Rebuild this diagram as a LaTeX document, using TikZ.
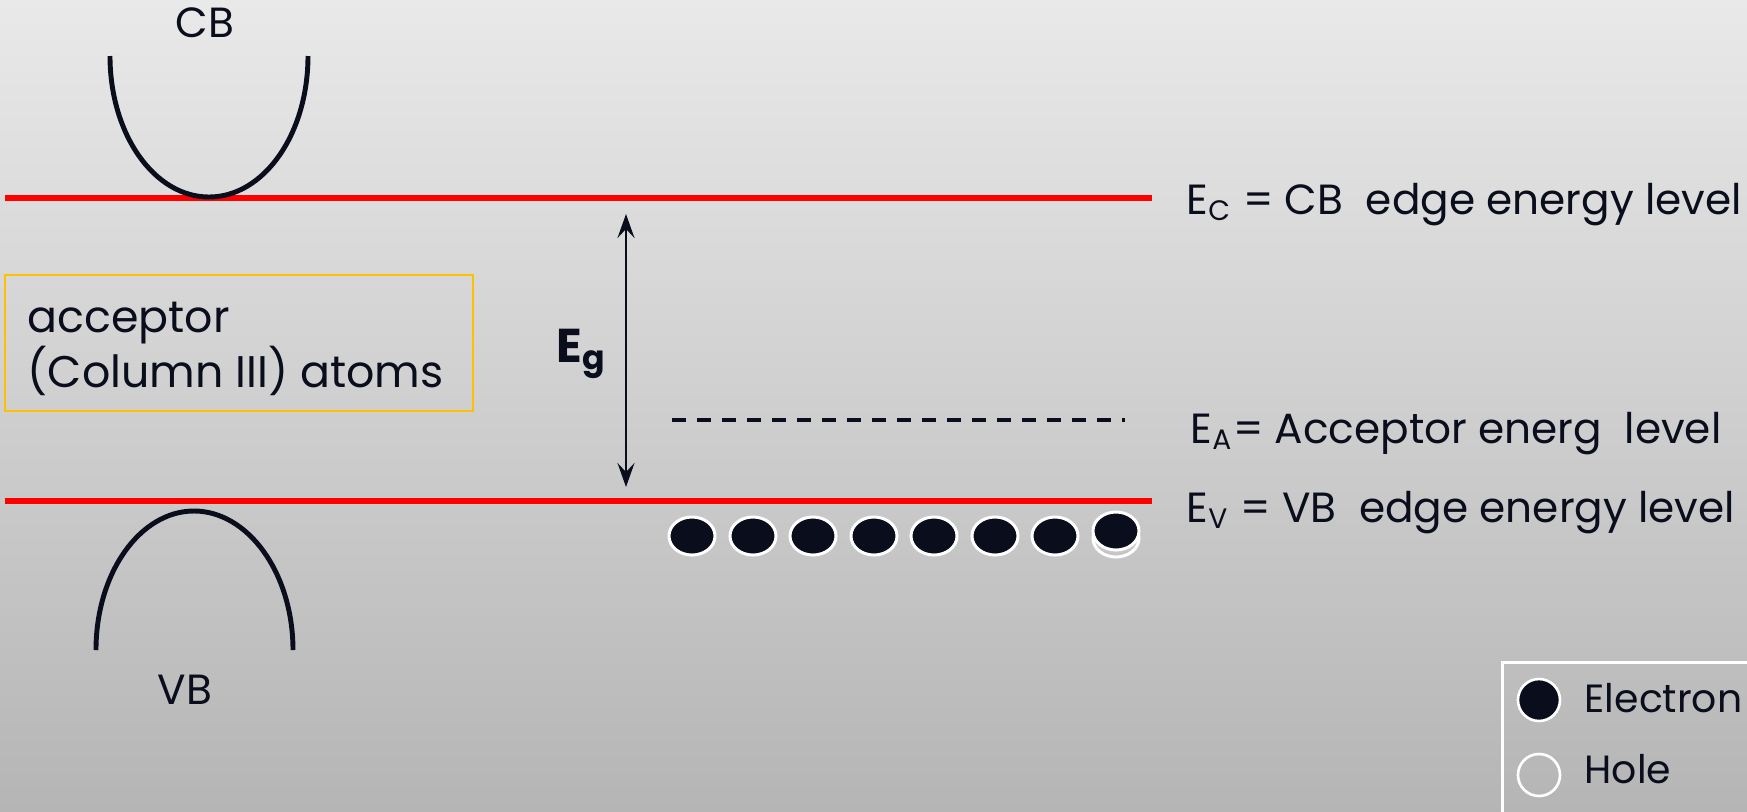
\documentclass[tikz,border=0pt]{standalone}
\usepackage{fontspec}
\setmainfont{Poppins}
\usepackage{tikz}
\usetikzlibrary{arrows.meta,shapes.geometric}
\definecolor{BSInk}{HTML}{0A0E1C}
\definecolor{BSRed}{HTML}{FF0000}
\definecolor{BSGold}{HTML}{FFC000}
\definecolor{BSTop}{HTML}{E9E9E9}
\definecolor{BSBottom}{HTML}{B5B5B5}

\begin{document}
\begin{tikzpicture}[x=0.01cm,y=-0.01cm,
  every node/.style={text=BSInk,font=\fontsize{12}{14}\selectfont,inner sep=0pt},
  level/.style={BSRed,line width=1.85pt},
  band/.style={BSInk,line width=1.4pt},
  electron/.style={ellipse,fill=BSInk,draw=white,line width=0.85pt,minimum width=0.46cm,minimum height=0.38cm},
  hole/.style={ellipse,draw=white,line width=0.85pt,minimum width=0.46cm,minimum height=0.38cm},
  keydot/.style={circle,draw=white,line width=0.75pt,minimum size=0.42cm}]
\path[use as bounding box] (0,0) rectangle (1747,811);
\clip (0,0) rectangle (1747,811);
\shade[top color=BSTop,bottom color=BSBottom] (0,0) rectangle (1747,811);
% band edges
\draw[level] (5,198) -- (1152,198);
\draw[level] (5,501) -- (1152,501);
\draw[BSInk,line width=1pt,dash pattern=on 0.14cm off 0.11cm] (672,420) -- (1125,420);
% conduction and valence bands
\draw[band] (110,56) .. controls (110,134) and (154,197) .. (209,197) .. controls (264,197) and (308,134) .. (308,56);
\draw[band] (96,650) .. controls (96,573) and (140,511) .. (194,511) .. controls (248,511) and (293,573) .. (293,650);
\node[anchor=base] (cblabel) at (205,37) {CB};
\node[anchor=base] (vblabel) at (185,704) {VB};
% gap
\coordinate (egtop) at (626,214);
\coordinate (egbot) at (626,487);
\draw[BSInk,line width=0.75pt,{Stealth[length=2.4mm,width=1.7mm,inset=0.9mm]}-{Stealth[length=2.4mm,width=1.7mm,inset=0.9mm]}] (egtop) -- (egbot);
\node[anchor=base west,font=\fontsize{13.5}{16}\selectfont\bfseries] (eglabel) at (556,362) {E\textsubscript{g}};
% acceptor box
\draw[BSGold,line width=0.6pt] (5,275) rectangle (473,411);
\node[anchor=base west,font=\fontsize{12.6}{15}\selectfont] (accline1) at (27,332) {acceptor};
\node[anchor=base west,font=\fontsize{12.6}{15}\selectfont] (accline2) at (27,387) {(Column III) atoms};
% level labels
\node[anchor=base west] (eclabel) at (1186,214) {E\textsubscript{C} = CB\ \ edge energy level};
\node[anchor=base west] (ealabel) at (1190,443) {E\textsubscript{A}= Acceptor energ\ \ level};
\node[anchor=base west] (evlabel) at (1186,522) {E\textsubscript{V} = VB\ \ edge energy level};
% electrons at the valence edge
\node[electron] (e1) at (692,536) {};
\node[electron] (e2) at (753,536) {};
\node[electron] (e3) at (813,536) {};
\node[electron] (e4) at (874,536) {};
\node[electron] (e5) at (934,536) {};
\node[electron] (e6) at (995,536) {};
\node[electron] (e7) at (1055,536) {};
\node[hole] (h8) at (1116,538) {};
\node[electron] (e8) at (1116,531) {};
% legend
\draw[white,line width=0.85pt] (1502,662) rectangle (1760,830);
\node[keydot,fill=BSInk] (keyel) at (1539,700) {};
\node[keydot] (keyho) at (1539,775) {};
\node[anchor=base west,font=\fontsize{11.2}{13}\selectfont] (elelabel) at (1584,712) {Electron};
\node[anchor=base west,font=\fontsize{11.2}{13}\selectfont] (holelabel) at (1584,783) {Hole};
\end{tikzpicture}
\end{document}
